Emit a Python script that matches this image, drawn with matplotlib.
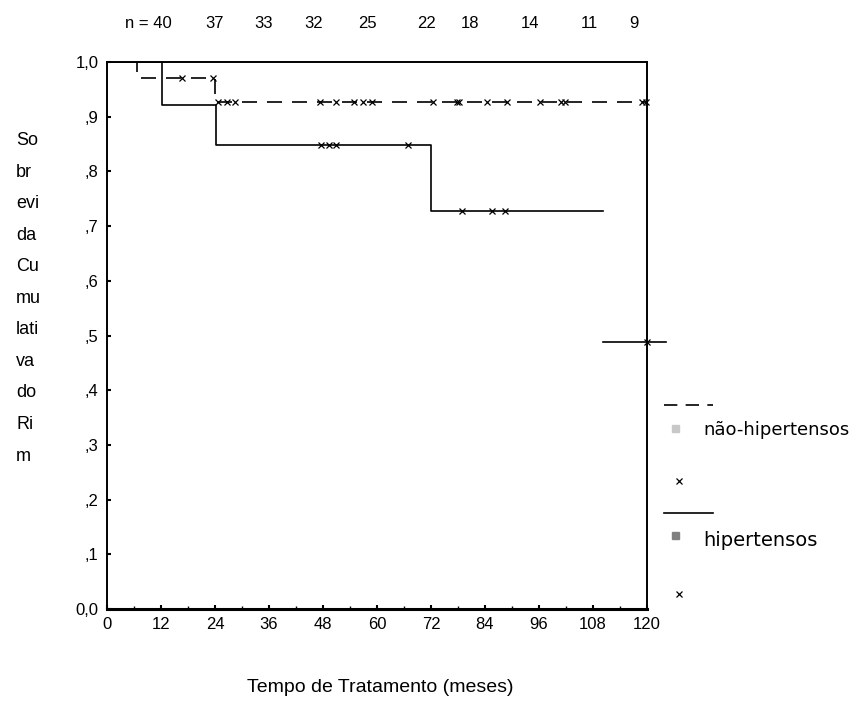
import matplotlib
matplotlib.use("Agg")
import matplotlib.pyplot as plt
from matplotlib.patches import Rectangle
from matplotlib.lines import Line2D

plt.rcParams['font.family'] = ['Liberation Sans', 'DejaVu Sans']

# ---- data ----
# não-hipertensos (dashed)
nh_times = [0, 6.7, 24, 120]
nh_surv = [1.0, 0.97, 0.927, 0.927]
nh_cens_t1 = [16.7, 23.5]
nh_cens_s1 = 0.97
nh_cens_t2 = [24.7, 26.6, 28.4, 47.3, 51, 55, 57, 58.9, 72.5, 77.7, 78.3,
              84.4, 89, 96.2, 101, 101.8, 119, 119.8]
nh_cens_s2 = 0.927

# hipertensos (solid)
h_times = [0, 12.3, 24.2, 72.1, 110.3]
h_surv = [1.0, 0.922, 0.848, 0.728, 0.728]
h_last_times = [110.3, 124.2]
h_last_surv = [0.488, 0.488]
h_cens_t1 = [47.5, 49.3, 51, 67]
h_cens_s1 = 0.848
h_cens_t2 = [79, 85.5, 88.4]
h_cens_s2 = 0.728
h_cens_t3 = [120]
h_cens_s3 = 0.488

# numbers at risk
n_labels = ["n = 40", "37", "33", "32", "25", "22", "18", "14", "11", "9"]
n_pos = [9.1, 23.8, 34.7, 46.0, 57.8, 71.1, 80.7, 94.0, 107.1, 117.0]

x_ticks = list(range(0, 121, 12))
y_ticks = [0, .1, .2, .3, .4, .5, .6, .7, .8, .9, 1.0]
y_ticklabels = ["0,0", ",1", ",2", ",3", ",4", ",5", ",6", ",7", ",8", ",9", "1,0"]

ylabel_text = "So\nbr\nevi\nda\nCu\nmu\nlati\nva\ndo\nRi\nm"

W, H = 868, 705
fig = plt.figure(figsize=(W / 100, H / 100), dpi=100)
L, R, T, B = 107, 647, 62, 609
ax = fig.add_axes([L / W, 1 - B / H, (R - L) / W, (B - T) / H])

lw = 1.2
ax.step(nh_times, nh_surv, where='post', color='black', lw=lw, dashes=(9, 6))
ax.step(h_times, h_surv, where='post', color='black', lw=lw)
ax.plot(h_last_times, h_last_surv, color='black', lw=lw, clip_on=False)

mk = dict(marker='x', linestyle='none', color='black', markersize=5, markeredgewidth=0.9, clip_on=False)
ax.plot(nh_cens_t1, [nh_cens_s1] * len(nh_cens_t1), **mk)
ax.plot(nh_cens_t2, [nh_cens_s2] * len(nh_cens_t2), **mk)
ax.plot(h_cens_t1, [h_cens_s1] * len(h_cens_t1), **mk)
ax.plot(h_cens_t2, [h_cens_s2] * len(h_cens_t2), **mk)
ax.plot(h_cens_t3, [h_cens_s3] * len(h_cens_t3), **mk)

ax.set_xlim(0, 120)
ax.set_ylim(0, 1)
ax.set_xticks(x_ticks)
ax.set_xticks(list(range(6, 120, 12)), minor=True)
ax.set_yticks(y_ticks)
ax.set_yticklabels(y_ticklabels)
ax.tick_params(axis='both', which='major', direction='in', length=3, width=1.5, labelsize=12, pad=6)
ax.tick_params(axis='x', which='minor', direction='in', length=2, width=1)
for s in ax.spines.values():
    s.set_linewidth(1.4)
ax.spines['bottom'].set_linewidth(2.2)

# numbers at risk
for lab, p in zip(n_labels, n_pos):
    ax.text(p, 1 + (62 - 24) / 547, lab, ha='center', va='center', fontsize=12,
            transform=ax.get_xaxis_transform())

# axis labels
fig.text(380 / W, 1 - 687 / H, "Tempo de Tratamento (meses)", ha='center', va='center', fontsize=14)
fig.text(16 / W, 1 - 132 / H, ylabel_text, ha='left', va='top', fontsize=13, linespacing=2.12)

# legend
def fx(px):
    return px / W

def fy(py):
    return 1 - py / H

fig.add_artist(Line2D([fx(664), fx(713)], [fy(405), fy(405)], color='black', lw=lw, dashes=(8, 5)))
fig.add_artist(Rectangle((fx(672), fy(432)), 7 / W, 7 / H, color='#c8c8c8', transform=fig.transFigure))
fig.text(fx(703), fy(430), "não-hipertensos", ha='left', va='center', fontsize=13,
         family=['DejaVu Sans'])
fig.add_artist(Line2D([fx(679)], [fy(481)], marker='x', color='black', markersize=4, markeredgewidth=0.9))
fig.add_artist(Line2D([fx(664), fx(713)], [fy(513), fy(513)], color='black', lw=lw))
fig.add_artist(Rectangle((fx(672), fy(539)), 7 / W, 7 / H, color='#808080', transform=fig.transFigure))
fig.text(fx(703), fy(540), "hipertensos", ha='left', va='center', fontsize=14,
         family=['DejaVu Sans'])
fig.add_artist(Line2D([fx(679)], [fy(594)], marker='x', color='black', markersize=4, markeredgewidth=0.9))

fig.savefig("out.png", dpi=100)
